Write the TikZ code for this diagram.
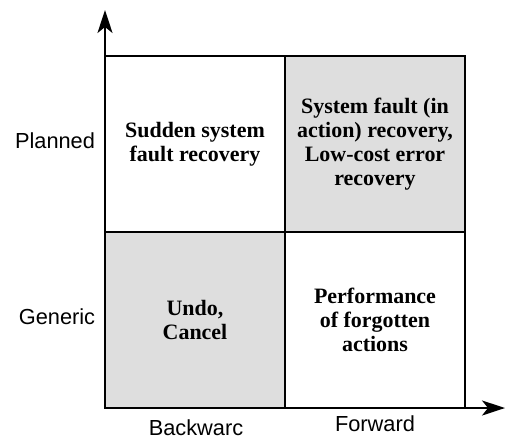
\documentclass[tikz,border=0pt]{standalone}
\usepackage{fontspec}
\setmainfont{Liberation Sans}
\newfontfamily\cellfont{Liberation Serif}
\usetikzlibrary{arrows.meta}

\definecolor{cellgray}{RGB}{222,222,222}

\tikzset{
  cell/.style={draw, line width=1.2pt, minimum width=3.6cm, minimum height=3.52cm,
    inner sep=0pt, outer sep=0pt, align=center,
    font=\cellfont\bfseries\fontsize{12.5}{13.7}\selectfont},
  shaded/.style={cell, fill=cellgray},
  axislabel/.style={anchor=base, inner sep=0pt, font=\fontsize{12.4}{14}\selectfont},
  axis/.style={line width=1.2pt, -{Stealth[length=0.46cm, width=0.3cm, inset=0.12cm]}}
}

\begin{document}
\begin{tikzpicture}[x=0.02cm, y=-0.02cm]
\useasboundingbox (0,0) rectangle (506,437);

% 四个格子
\node[cell]   (sudden)  at (195,144) {Sudden system\\fault recovery};
\node[shaded] (fault)   at (375,144) {System fault (in\\action) recovery,\\Low-cost error\\recovery};
\node[shaded] (undo)    at (195,320) {Undo,\\Cancel};
\node[cell]   (perform) at (375,320) {Performance\\of forgotten\\actions};

% 坐标轴
\coordinate (origin) at (105,408);
\coordinate (ytip) at (105,10);
\coordinate (xtip) at (505,408);
\draw[axis] (origin) -- (ytip);
\draw[axis] (origin) -- (xtip);

% 标记文字
\node[axislabel] (planned)  at (55,148) {Planned};
\node[axislabel] (generic)  at (57,324) {Generic};
\node[axislabel] (backward) at (196,435) {Backwarc};
\node[axislabel] (forward)  at (375,431) {Forward};

\end{tikzpicture}
\end{document}
